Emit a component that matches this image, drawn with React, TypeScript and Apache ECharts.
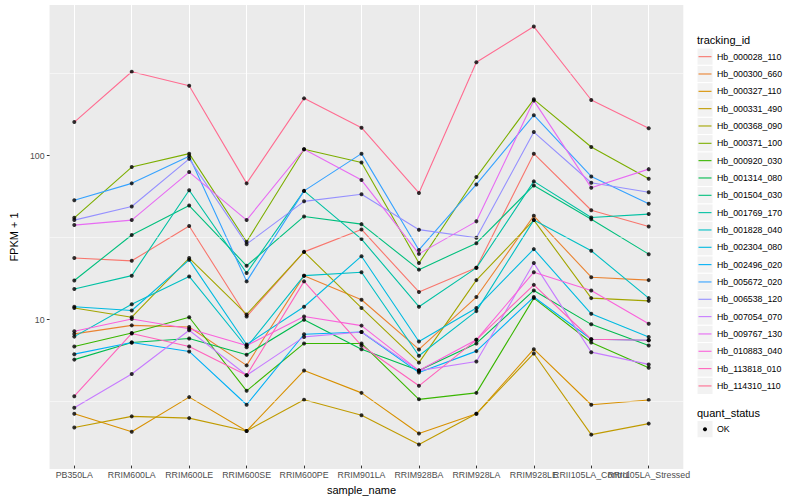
import React, { useEffect, useRef } from "react";
import * as echarts from "echarts";

const sampleNames = [
  "PB350LA", "RRIM600LA", "RRIM600LE", "RRIM600SE", "RRIM600PE", "RRIM901LA",
  "RRIM928BA", "RRIM928LA", "RRIM928LE", "RRII105LA_Control", "RRII105LA_Stressed",
];

const trackingIds = [
  "Hb_000028_110", "Hb_000300_660", "Hb_000327_110", "Hb_000331_490", "Hb_000368_090",
  "Hb_000371_100", "Hb_000920_030", "Hb_001314_080", "Hb_001504_030", "Hb_001769_170",
  "Hb_001828_040", "Hb_002304_080", "Hb_002496_020", "Hb_005672_020", "Hb_006538_120",
  "Hb_007054_070", "Hb_009767_130", "Hb_010883_040", "Hb_113818_010", "Hb_114310_110",
];

const trackingColors = [
  "#F8766D", "#EA8331", "#D89000", "#C09B00", "#A3A500", "#7CAE00", "#39B600", "#00BB4E",
  "#00BF7D", "#00C1A3", "#00BFC4", "#00BAE0", "#00B0F6", "#35A2FF", "#9590FF", "#C77CFF",
  "#E76BF3", "#FA62DB", "#FF62BC", "#FF6C91",
];

// FPKM + 1 per sample, in sampleNames order
const hb000028_110 = [23.1, 22.2, 36.3, 10.1, 25.2, 34.6, 14.3, 20.1, 101.1, 45.4, 36.1];
const hb000300_660 = [7.9, 8.91, 8.7, 5.06, 18.0, 12.8, 6.34, 13.3, 42.0, 17.6, 16.9];
const hb000327_110 = [2.55, 1.98, 3.23, 2.0, 4.7, 3.43, 1.93, 2.55, 6.36, 2.9, 3.1];
const hb000331_490 = [2.1, 2.46, 2.4, 2.0, 3.11, 2.5, 1.65, 2.55, 5.99, 1.9, 2.22];
const hb000368_090 = [11.4, 10.0, 23.1, 10.4, 25.2, 11.4, 5.26, 16.9, 39.5, 13.1, 12.6];
const hb000371_100 = [40.8, 83.6, 101.1, 29.1, 107.6, 89.1, 21.5, 72.6, 218, 111.1, 70.9];
const hb000920_030 = [6.61, 8.0, 10.0, 3.53, 6.9, 6.9, 3.13, 3.43, 13.1, 6.99, 4.9];
const hb001314_080 = [5.49, 6.99, 7.4, 5.88, 9.65, 6.36, 4.7, 6.9, 14.6, 9.04, 6.7];
const hb001504_030 = [16.8, 32.0, 48.5, 20.7, 41.6, 37.3, 19.6, 28.5, 64.5, 40.0, 24.4];
const hb001769_170 = [14.9, 18.0, 60.2, 18.7, 59.7, 30.2, 11.6, 20.1, 68.3, 41.0, 43.0];
const hb001828_040 = [7.6, 12.0, 17.8, 6.54, 18.0, 18.9, 5.8, 10.9, 39.5, 25.6, 13.1];
const hb002304_080 = [11.6, 11.0, 22.5, 6.8, 11.6, 23.7, 7.09, 11.4, 26.2, 10.5, 7.57];
const hb002496_020 = [5.93, 6.99, 6.16, 2.9, 7.86, 8.12, 4.57, 6.19, 13.3, 7.32, 7.22];
const hb005672_020 = [52.3, 66.4, 97.5, 16.6, 59.7, 101.1, 25.9, 65.4, 174.1, 73.2, 49.7];
const hb006538_120 = [39.5, 47.9, 93.9, 28.1, 51.5, 56.9, 34.5, 30.8, 137.2, 67.0, 58.5];
const hb007054_070 = [2.78, 4.48, 8.31, 4.4, 7.57, 8.12, 4.7, 5.35, 21.5, 6.1, 5.13];
const hb009767_130 = [36.8, 39.5, 77.9, 39.5, 107.6, 69.6, 24.5, 38.8, 214.1, 62.5, 81.2];
const hb010883_040 = [8.19, 9.75, 8.5, 6.7, 10.1, 8.88, 4.7, 7.26, 18.9, 14.6, 9.13];
const hb113818_010 = [3.27, 7.95, 6.61, 4.4, 16.6, 6.7, 3.79, 7.26, 15.8, 7.32, 7.22];
const hb114310_110 = [158, 322, 264, 66.4, 221, 146, 58, 368, 610, 216, 145];

const seriesValues = [
  hb000028_110, hb000300_660, hb000327_110, hb000331_490, hb000368_090,
  hb000371_100, hb000920_030, hb001314_080, hb001504_030, hb001769_170,
  hb001828_040, hb002304_080, hb002496_020, hb005672_020, hb006538_120,
  hb007054_070, hb009767_130, hb010883_040, hb113818_010, hb114310_110,
];

const yTicks = [10, 100];
const yMinorBreaks = [3.1623, 31.623, 316.23];
const yRange = [1.226, 827.7];
const quantStatus = ["OK"];

const FONT = "Liberation Sans, Arial, sans-serif";

export default function App() {
  const ref = useRef<HTMLDivElement>(null);

  useEffect(() => {
    if (!ref.current) return;
    const chart = echarts.init(ref.current, undefined, { renderer: "svg" });

    const lineSeries = seriesValues.map((vals, i) => ({
      name: trackingIds[i],
      type: "line",
      xAxisIndex: 1,
      yAxisIndex: 1,
      data: vals,
      symbol: "none",
      lineStyle: { color: trackingColors[i], width: 1.1 },
      itemStyle: { color: trackingColors[i] },
      z: 3,
      silent: true,
    }));

    const pointData: number[][] = [];
    seriesValues.forEach((vals) => vals.forEach((v, j) => pointData.push([j, v])));

    const legendChildren: any[] = [];
    const keyH = 17.33;
    const keyTop = 48;
    legendChildren.push({
      type: "text",
      style: { text: "tracking_id", x: 697, y: 40, fontSize: 11, fontFamily: FONT, fill: "#000", verticalAlign: "middle", align: "left" },
    });
    trackingIds.forEach((id, i) => {
      const y0 = keyTop + i * keyH;
      legendChildren.push({
        type: "rect",
        shape: { x: 697, y: y0, width: 16, height: keyH },
        style: { fill: "#F2F2F2", stroke: "#FFFFFF", lineWidth: 1 },
      });
      legendChildren.push({
        type: "line",
        shape: { x1: 698.5, y1: y0 + keyH / 2, x2: 711.5, y2: y0 + keyH / 2 },
        style: { stroke: trackingColors[i], lineWidth: 1.1 },
      });
      legendChildren.push({
        type: "text",
        style: { text: id, x: 717, y: y0 + keyH / 2, fontSize: 8.8, fontFamily: FONT, fill: "#000", verticalAlign: "middle", align: "left" },
      });
    });
    legendChildren.push({
      type: "text",
      style: { text: "quant_status", x: 697, y: 412.5, fontSize: 11, fontFamily: FONT, fill: "#000", verticalAlign: "middle", align: "left" },
    });
    quantStatus.forEach((q, i) => {
      const y0 = 420.5 + i * keyH;
      legendChildren.push({
        type: "rect",
        shape: { x: 697, y: y0, width: 16, height: keyH },
        style: { fill: "#F2F2F2", stroke: "#FFFFFF", lineWidth: 1 },
      });
      legendChildren.push({
        type: "circle",
        shape: { cx: 705, cy: y0 + keyH / 2, r: 2 },
        style: { fill: "#000" },
      });
      legendChildren.push({
        type: "text",
        style: { text: q, x: 717, y: y0 + keyH / 2, fontSize: 8.8, fontFamily: FONT, fill: "#000", verticalAlign: "middle", align: "left" },
      });
    });

    chart.setOption({
      animation: false,
      textStyle: { fontFamily: FONT },
      grid: [
        { left: 40, top: 5, width: 643.3, height: 464, show: true, backgroundColor: "#EBEBEB", borderWidth: 0 },
        { left: 74.3, top: 5, width: 574.4, height: 464, show: false },
      ],
      xAxis: [
        { type: "value", gridIndex: 0, min: 0, max: 1, show: false },
        {
          type: "category",
          gridIndex: 1,
          data: sampleNames,
          boundaryGap: false,
          name: "sample_name",
          nameLocation: "middle",
          nameGap: 14,
          nameTextStyle: { fontSize: 11, color: "#000", fontFamily: FONT, verticalAlign: "top" },
          axisLine: { show: false },
          axisTick: { show: true, length: 2.75, lineStyle: { color: "#333333", width: 1 } },
          axisLabel: { interval: 0, hideOverlap: false, fontSize: 8.8, color: "#4D4D4D", margin: 4.5, fontFamily: FONT },
          splitLine: { show: true, lineStyle: { color: "#FFFFFF", width: 1.07 } },
        },
      ],
      yAxis: [
        {
          type: "log",
          logBase: 10,
          gridIndex: 0,
          min: yRange[0],
          max: yRange[1],
          name: "FPKM + 1",
          nameLocation: "middle",
          nameGap: 24,
          nameTextStyle: { fontSize: 11, color: "#000", fontFamily: FONT },
          axisLine: { show: false },
          axisTick: { show: true, length: 2.75, lineStyle: { color: "#333333", width: 1 }, customValues: yTicks },
          axisLabel: {
            fontSize: 8.8,
            color: "#4D4D4D",
            margin: 5,
            fontFamily: FONT,
            customValues: yTicks,
            formatter: (v: number) => (yTicks.some((t) => Math.abs(t - v) < 1e-6) ? String(Math.round(v)) : ""),
          },
          splitLine: { show: true, showMinLine: false, showMaxLine: false, lineStyle: { color: "#FFFFFF", width: 1.07 } },
        },
        {
          type: "log",
          logBase: 10,
          gridIndex: 1,
          min: yRange[0],
          max: yRange[1],
          show: false,
          splitLine: { show: false },
        },
      ],
      series: [
        {
          type: "line",
          xAxisIndex: 0,
          yAxisIndex: 0,
          data: [],
          silent: true,
          z: 1,
          markLine: {
            silent: true,
            symbol: ["none", "none"],
            label: { show: false },
            lineStyle: { color: "#FFFFFF", width: 0.53, type: "solid" },
            data: yMinorBreaks.map((v) => ({ yAxis: v })),
          },
        },
        ...lineSeries,
        {
          type: "scatter",
          xAxisIndex: 1,
          yAxisIndex: 1,
          data: pointData,
          symbol: "circle",
          symbolSize: 4,
          itemStyle: { color: "#000000" },
          z: 4,
          silent: true,
        },
      ],
      graphic: { elements: legendChildren },
    });

    return () => chart.dispose();
  }, []);

  return <div ref={ref} style={{ position: "absolute", left: 0, top: 0, width: 800, height: 500 }} />;
}
